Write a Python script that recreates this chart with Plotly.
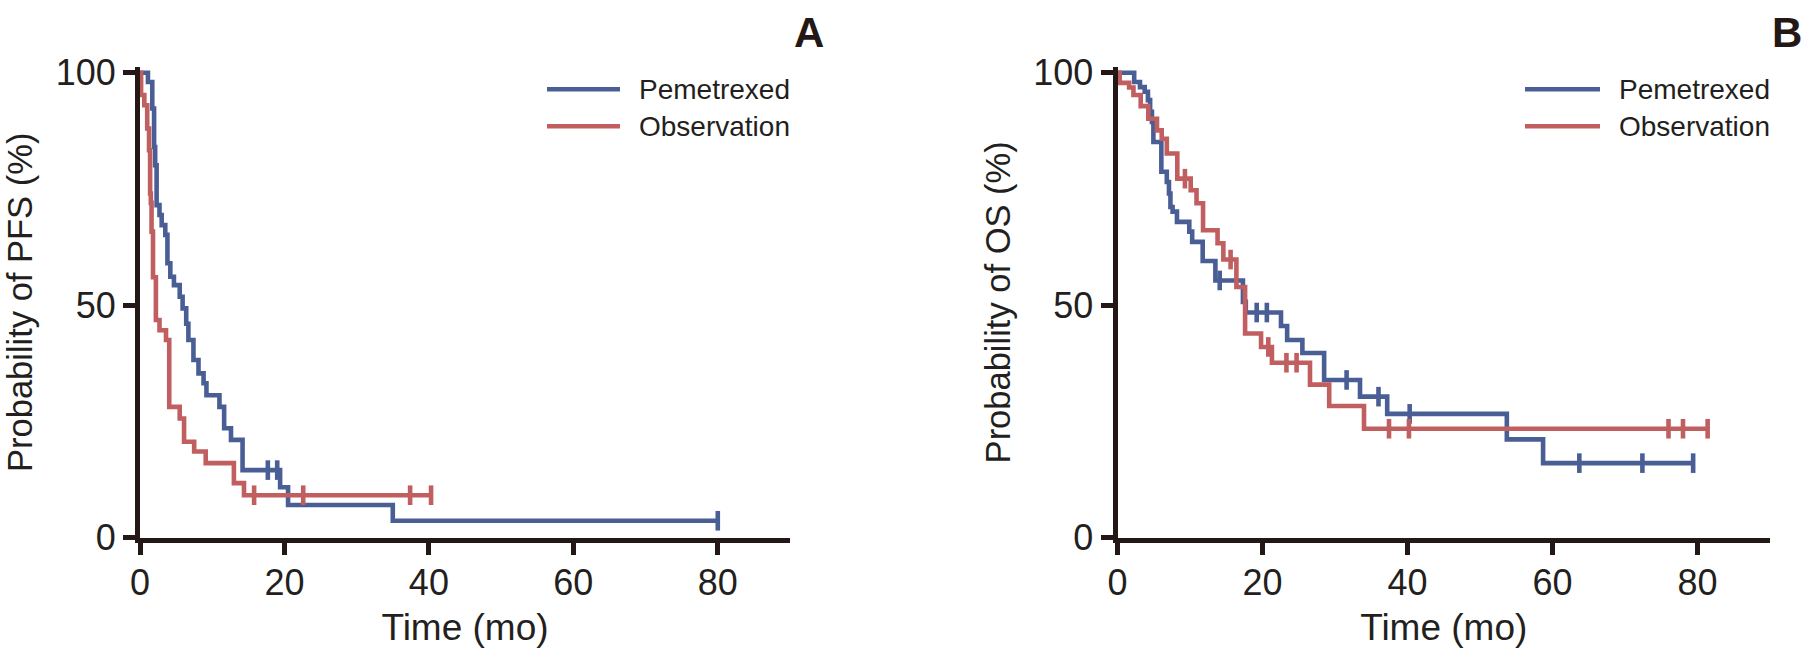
import plotly.graph_objects as go

# ---------------- data ----------------
# Panel A: progression-free survival
pfs_pem_time = [0, 1.1, 1.7, 1.95, 2.1, 2.3, 2.7, 3.0, 3.5, 3.8, 4.2, 4.7, 5.5, 5.9, 6.4, 6.7,
                7.4, 8.1, 8.8, 9.2, 11.0, 11.65, 12.6, 14.2, 19.4, 20.5, 35.0, 80.0]
pfs_pem_surv = [100, 98.0, 92.3, 84.0, 80.1, 71.5, 69.4, 67.2, 65.1, 59.0, 56.1, 54.3, 51.8, 49.3, 46.0, 42.5,
                38.2, 35.3, 33.2, 30.6, 28.1, 23.5, 21.0, 14.5, 10.8, 7.0, 3.6, 3.6]
pfs_pem_censor = [17.7, 19.0, 80.0]

pfs_obs_time = [0, 0.15, 0.6, 1.0, 1.25, 1.4, 1.5, 1.6, 1.8, 2.2, 2.7, 3.6, 4.05, 5.5, 6.1,
                7.5, 9.1, 13.0, 14.4, 40.3]
pfs_obs_surv = [100, 95.2, 93.0, 88.0, 83.3, 74.0, 72.0, 65.8, 56.0, 46.8, 44.6, 42.5, 28.1, 25.6, 20.6,
                18.5, 16.0, 11.7, 9.1, 9.1]
pfs_obs_censor = [15.8, 22.6, 37.4, 40.3]

# Panel B: overall survival
os_pem_time = [0, 2.3, 3.1, 3.75, 4.2, 4.5, 4.75, 4.95, 6.05, 6.8, 7.1, 7.3, 7.6, 8.2, 9.9, 10.3,
               11.75, 13.5, 17.3, 17.7, 22.55, 23.4, 25.5, 28.5, 33.45, 37.2, 53.7, 58.7, 79.4]
os_pem_surv = [100, 98.0, 96.9, 95.9, 94.1, 91.6, 89.4, 85.1, 78.7, 76.5, 74.0, 71.1, 70.1, 67.9, 65.8, 63.6,
               59.5, 55.3, 50.7, 48.4, 45.5, 42.5, 39.7, 33.9, 30.3, 26.6, 21.1, 16.0, 16.0]
os_pem_censor = [14.1, 19.2, 20.6, 31.6, 36.0, 40.3, 63.7, 72.4, 79.4]

os_obs_time = [0, 0.3, 1.6, 2.2, 3.2, 4.25, 5.45, 6.1, 6.8, 8.25, 10.1, 10.9, 11.8, 13.8, 14.6,
               16.4, 17.6, 19.8, 21.3, 26.55, 29.2, 34.0, 81.4]
os_obs_surv = [100, 97.8, 96.8, 95.2, 92.8, 90.1, 87.6, 85.8, 82.6, 77.2, 74.7, 71.9, 66.1, 63.3, 59.8,
               53.9, 43.9, 41.0, 37.6, 32.9, 28.3, 23.4, 23.4]
os_obs_censor = [9.3, 15.6, 20.8, 23.3, 24.7, 37.45, 40.2, 76.0, 78.0, 81.4]

x_ticks = [0, 20, 40, 60, 80]
y_ticks = [0, 50, 100]
series_names = ["Pemetrexed", "Observation"]
panel_labels = ["A", "B"]
y_titles = ["Probability of PFS (%)", "Probability of OS (%)"]
x_title = "Time (mo)"

# ---------------- style ----------------
W, H = 1805, 652
BLUE = "#4a5e96"
RED = "#c15e60"
INK = "#231815"
TXT = "#231f20"
FONT = "Liberation Sans, Arial, Helvetica, sans-serif"


def surv_at(times, survs, t):
    val = survs[0]
    for ti, si in zip(times, survs):
        if ti <= t:
            val = si
    return val


def px(x):
    return x / W


def py(y):
    return 1 - y / H


fig = go.Figure()

panels = [
    ("x", "y", [(pfs_pem_time, pfs_pem_surv, pfs_pem_censor, BLUE),
                (pfs_obs_time, pfs_obs_surv, pfs_obs_censor, RED)]),
    ("x2", "y2", [(os_pem_time, os_pem_surv, os_pem_censor, BLUE),
                  (os_obs_time, os_obs_surv, os_obs_censor, RED)]),
]

for xa, ya, curves in panels:
    for (tt, ss, cc, col), name in zip(curves, series_names):
        fig.add_trace(go.Scatter(
            x=tt, y=ss, mode="lines", line=dict(color=col, width=4.6, shape="hv"),
            name=name, showlegend=False, xaxis=xa, yaxis=ya, hoverinfo="skip"))
        fig.add_trace(go.Scatter(
            x=cc, y=[surv_at(tt, ss, c) for c in cc], mode="markers",
            marker=dict(symbol="line-ns", size=14, line=dict(color=col, width=4.6)),
            name=name + " censored", showlegend=False, xaxis=xa, yaxis=ya,
            cliponaxis=False, hoverinfo="skip"))

# geometry (pixels)
Y0_PX, Y100_PX = 537.5, 72.7
ppu = (Y0_PX - Y100_PX) / 100.0
YMAX = 101.2
ytop_px = Y0_PX - YMAX * ppu
ydom = [py(Y0_PX), py(ytop_px)]

xdomA = [px(140), px(790)]
xdomB = [px(1117.5), px(1770)]

axis_common = dict(
    showgrid=False, zeroline=False, showline=True, linewidth=5, linecolor=INK,
    ticks="outside", ticklen=12, tickwidth=5, tickcolor=INK, automargin=False,
    tickfont=dict(family=FONT, size=36, color=TXT),
)

layout_axes = {}
for i, (xd, ytitle) in enumerate([(xdomA, y_titles[0]), (xdomB, y_titles[1])]):
    sx = "" if i == 0 else "2"
    layout_axes["xaxis" + sx] = dict(
        axis_common, domain=xd, range=[0, 90], tickvals=x_ticks, anchor="y" + sx,
        ticklabelstandoff=-3,
        title=dict(text=x_title, font=dict(family=FONT, size=37, color=TXT), standoff=14))
    layout_axes["yaxis" + sx] = dict(
        axis_common, domain=ydom, range=[0, YMAX], tickvals=y_ticks, anchor="x" + sx,
        title=dict(text=ytitle, font=dict(family=FONT, size=34.5, color=TXT), standoff=14))

fig.update_layout(
    template="none",
    width=W, height=H, margin=dict(l=0, r=0, t=0, b=0, autoexpand=False),
    paper_bgcolor="white", plot_bgcolor="white", showlegend=False,
    **layout_axes)

# legends (drawn manually to match the long legend keys)
shapes = []
annotations = []
for (lx0, lx1, tx) in [(547, 620, 637), (1525, 1600, 1617)]:
    for name, col, yy in [(series_names[0], BLUE, 89.3), (series_names[1], RED, 126.3)]:
        shapes.append(dict(type="line", xref="paper", yref="paper",
                           x0=px(lx0), x1=px(lx1), y0=py(yy), y1=py(yy),
                           line=dict(color=col, width=4.5)))
        annotations.append(dict(text=name, xref="paper", yref="paper", x=px(tx), y=py(yy),
                                xanchor="left", yanchor="middle", showarrow=False,
                                font=dict(family=FONT, size=28, color=TXT)))

for lab, cx in zip(panel_labels, [809, 1787]):
    annotations.append(dict(text="<b>" + lab + "</b>", xref="paper", yref="paper",
                            x=px(cx), y=py(32), xanchor="center", yanchor="middle",
                            showarrow=False,
                            font=dict(family=FONT, size=42, color=INK)))

fig.update_layout(shapes=shapes, annotations=annotations)

fig.write_html("out.html")
